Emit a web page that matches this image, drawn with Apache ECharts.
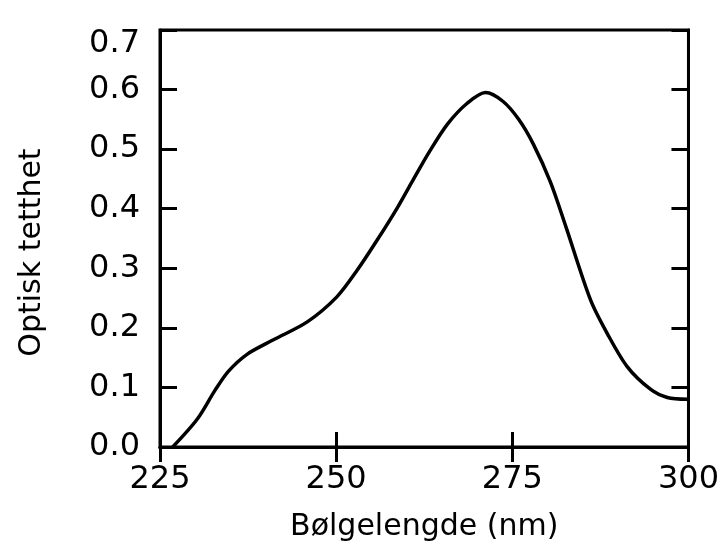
<!DOCTYPE html>
<html>
<head>
<meta charset="utf-8">
<script src="https://cdn.jsdelivr.net/npm/echarts@6/dist/echarts.min.js"></script>
<style>html,body{margin:0;padding:0;background:#fff}#c{width:722px;height:547px}</style>
</head>
<body>
<div id="c"></div>
<script>
const wavelength = [226.8, 230.3, 232.8, 234.7, 237.4, 241.1, 245.9, 250.1, 253.0, 255.8, 258.7, 261.0, 263.2, 265.8, 268.6, 271.2, 273.7, 275.9, 278.0, 280.4, 282.6, 286.1, 288.5, 291.3, 294.6, 297.0, 299.9];
const density    = [0.0, 0.047, 0.095, 0.127, 0.156, 0.18, 0.21, 0.252, 0.297, 0.347, 0.402, 0.45, 0.495, 0.542, 0.577, 0.595, 0.58, 0.55, 0.508, 0.445, 0.37, 0.247, 0.19, 0.135, 0.097, 0.083, 0.08];
const xTicks = [225, 250, 275, 300];
const yTicks = [0.0, 0.1, 0.2, 0.3, 0.4, 0.5, 0.6, 0.7];
const xTitle = 'Bølgelengde (nm)';
const yTitle = 'Optisk tetthet';

const FONT = 'DejaVu Sans';
const chart = echarts.init(document.getElementById('c'), null, {renderer: 'canvas'});
const pts = wavelength.map((w, i) => [w, density[i]]);
const axLine = {show: true, lineStyle: {color: '#000', width: 3}};
const tick = (len) => ({show: true, inside: true, length: len, lineStyle: {color: '#000', width: 3}});
chart.setOption({
  animation: false,
  backgroundColor: '#fff',
  grid: {left: 160, right: 33, top: 30, bottom: 99, show: true, borderColor: '#000', borderWidth: 3},
  xAxis: [{
    type: 'value', min: xTicks[0], max: xTicks[xTicks.length - 1], interval: 25,
    position: 'bottom',
    axisLine: axLine, axisTick: tick(15), splitLine: {show: false},
    axisLabel: {color: '#000', fontFamily: FONT, fontSize: 32, margin: 17},
    name: xTitle, nameLocation: 'middle', nameGap: 65,
    nameTextStyle: {color: '#000', fontFamily: FONT, fontSize: 30}
  }, {
    type: 'value', min: xTicks[0], max: xTicks[xTicks.length - 1], interval: 25,
    position: 'top',
    axisLine: axLine, axisTick: tick(15), splitLine: {show: false},
    axisLabel: {show: false}
  }],
  yAxis: [{
    type: 'value', min: 0, max: yTicks[yTicks.length - 1], interval: 0.1,
    position: 'left',
    axisLine: axLine, axisTick: tick(17), splitLine: {show: false},
    axisLabel: {
      color: '#000', fontFamily: FONT, fontSize: 32, margin: 20,
      formatter: v => Math.abs(v - 0.7) < 1e-9 ? '{top|' + v.toFixed(1) + '}' : v.toFixed(1),
      rich: {top: {fontFamily: FONT, fontSize: 32, color: '#000', padding: [28, 0, 0, 0]}}
    },
    name: yTitle, nameLocation: 'middle', nameGap: 113, nameRotate: 90,
    nameTextStyle: {color: '#000', fontFamily: FONT, fontSize: 30, padding: [0, 28, 0, 0]}
  }, {
    type: 'value', min: 0, max: yTicks[yTicks.length - 1], interval: 0.1,
    position: 'right',
    axisLine: axLine, axisTick: tick(17), splitLine: {show: false},
    axisLabel: {show: false}
  }],
  series: [{
    type: 'line', data: pts, smooth: 0.3, showSymbol: false, symbol: 'none',
    lineStyle: {color: '#000', width: 3.5}, clip: true
  }]
});
</script>
</body>
</html>
